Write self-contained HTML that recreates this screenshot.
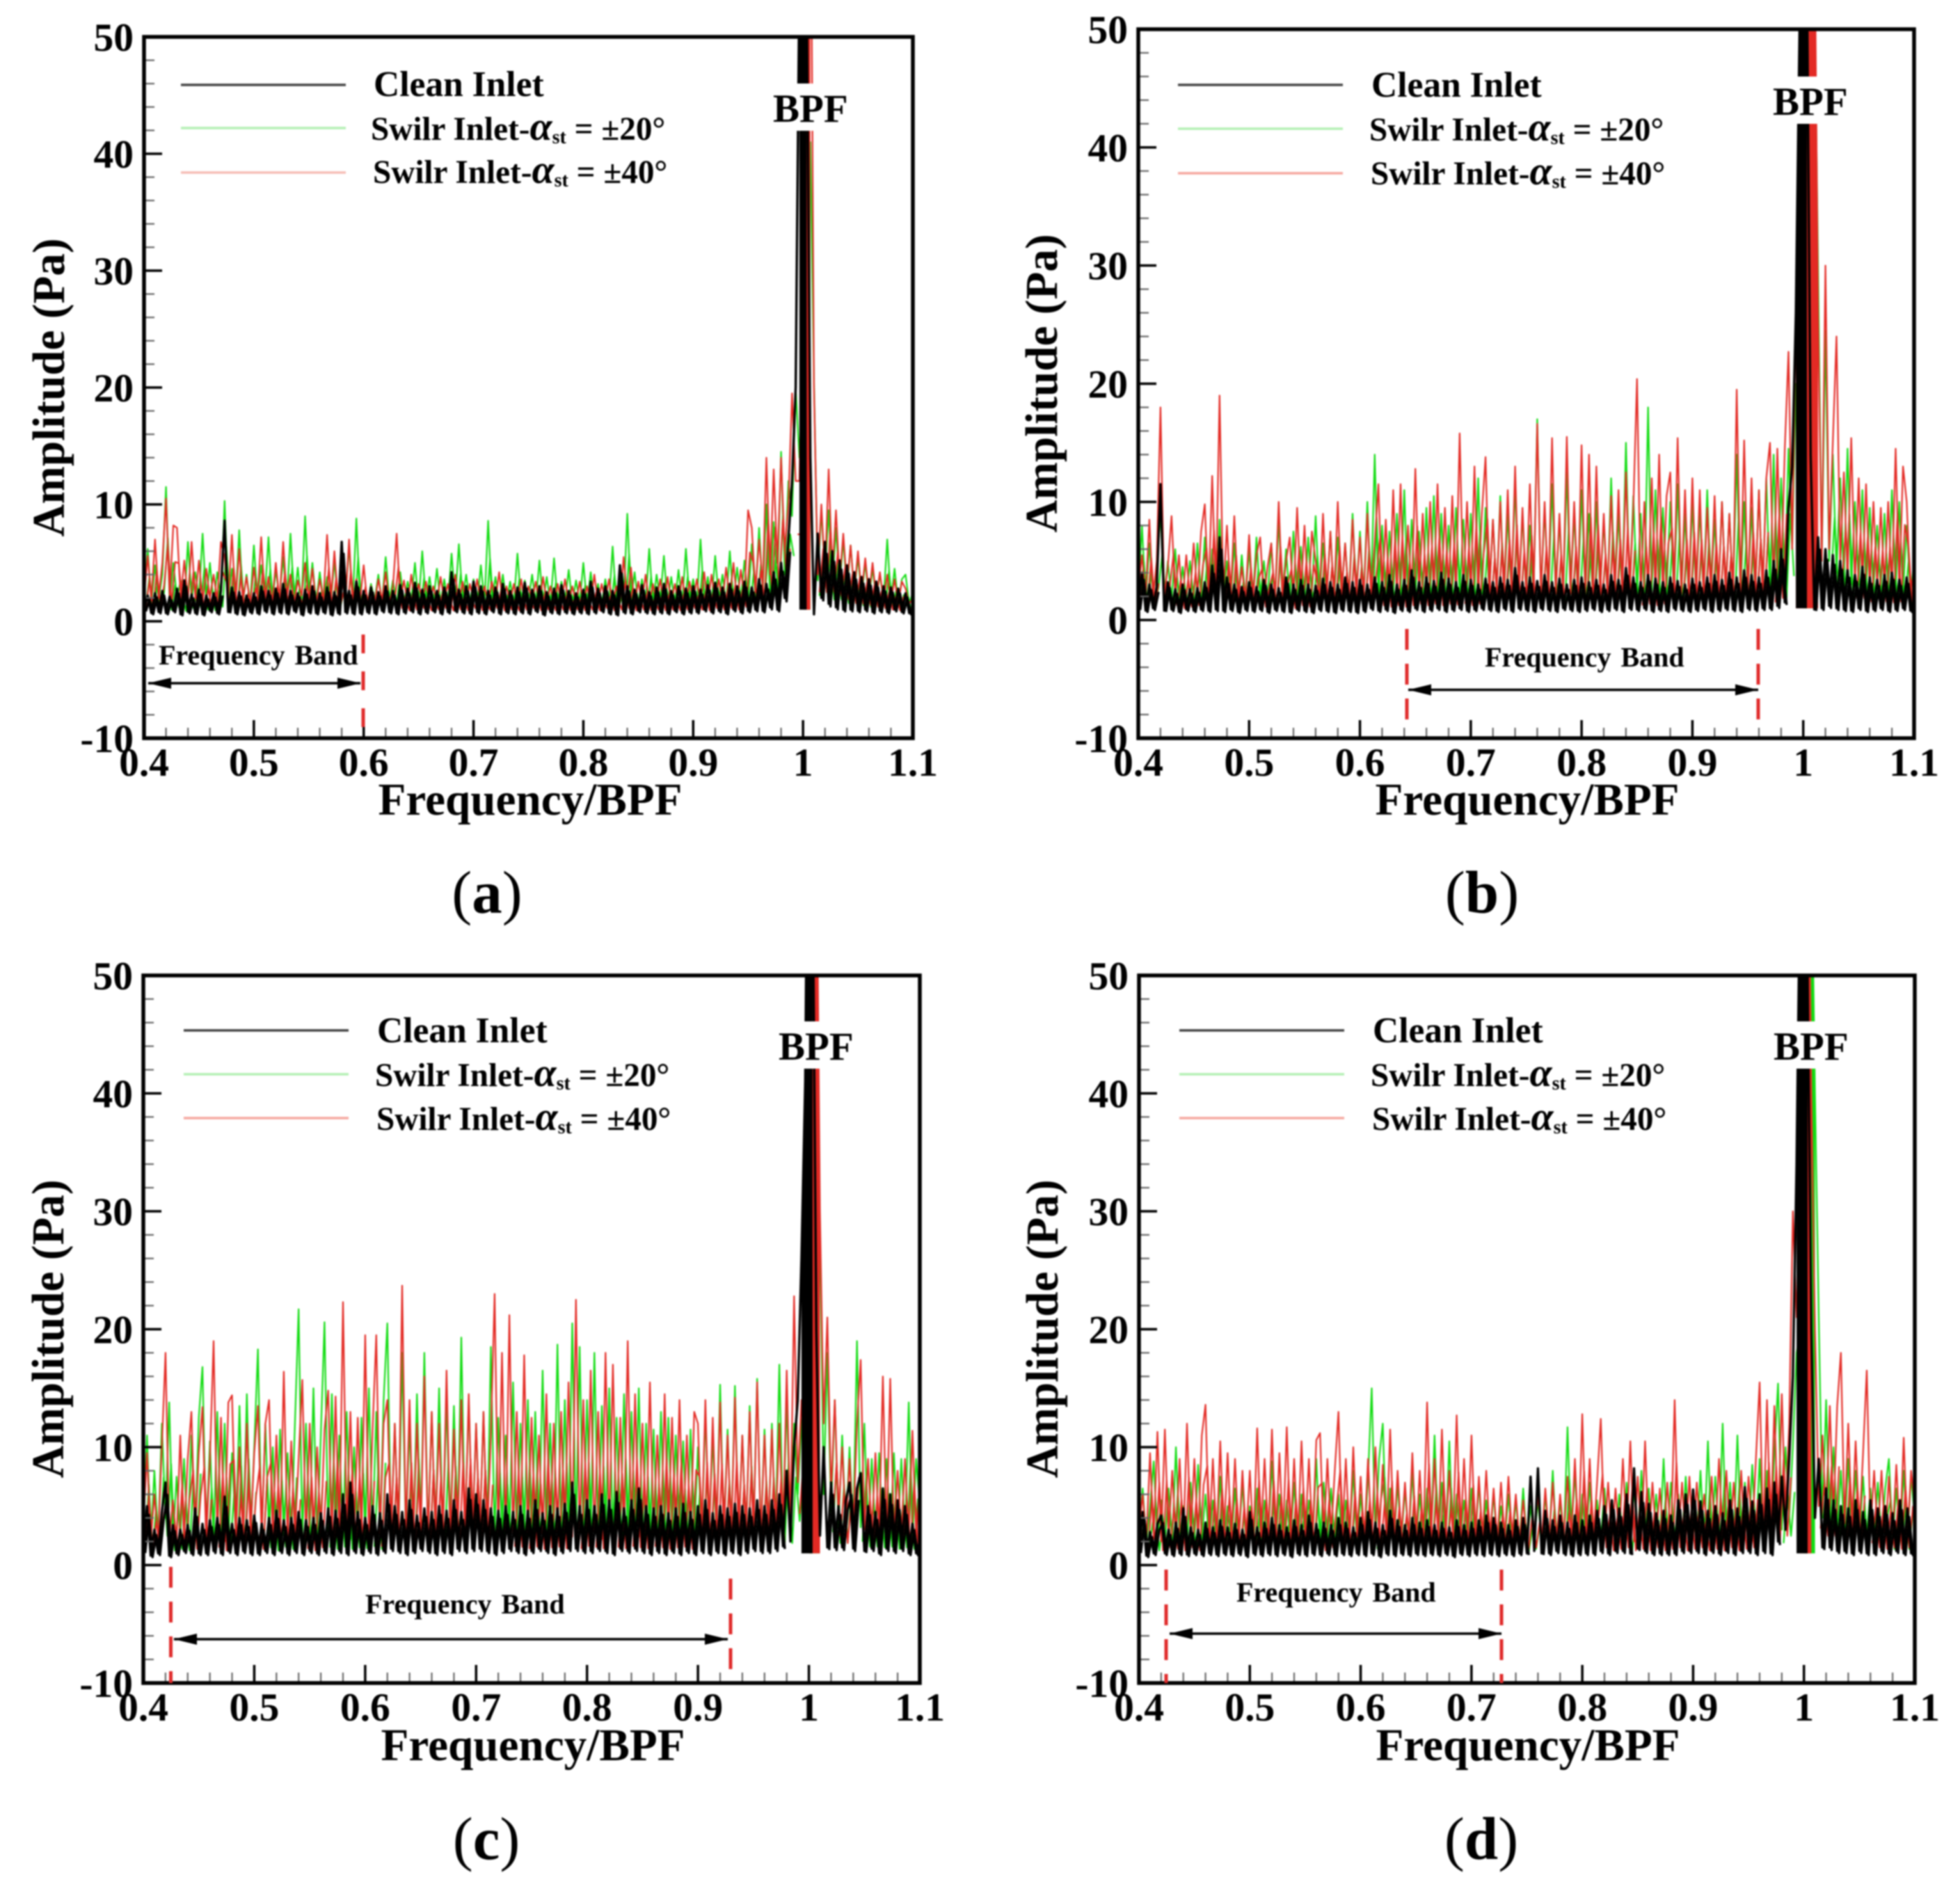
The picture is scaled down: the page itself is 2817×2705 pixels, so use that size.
<!DOCTYPE html>
<html lang="en">
<head>
<meta charset="utf-8">
<title>Amplitude spectra for clean and swirl inlets</title>
<style>
html,body{margin:0;padding:0;background:#fff;}
svg{display:block;}
text{font-family:"Liberation Serif",serif;font-weight:bold;fill:#000;}
.tick{font-size:57.5px;}
.xt{font-size:65.2px;text-anchor:middle;}
.leg1{font-size:51.5px;}
.leg2{font-size:47.2px;}
.bpf{font-size:57px;}
.fb{font-size:40px;word-spacing:4px;}
.cap{font-size:87px;text-anchor:middle;}
.cap tspan{font-weight:normal;}
.al{font-style:italic;font-size:58px;}
.st{font-size:28px;}
</style>
</head>
<body>
<svg xmlns="http://www.w3.org/2000/svg" width="2817" height="2705" viewBox="0 0 2817 2705">
<defs>
<clipPath id="clip-a"><rect x="207" y="53" width="1105" height="1008"/></clipPath>
<clipPath id="clip-b"><rect x="1636" y="42" width="1115" height="1019"/></clipPath>
<clipPath id="clip-c"><rect x="206" y="1402" width="1116" height="1017"/></clipPath>
<clipPath id="clip-d"><rect x="1637" y="1402" width="1115" height="1017"/></clipPath>
</defs>
<g style="filter:blur(1.1px)">

<g>
<g id="series-a" clip-path="url(#clip-a)"></g>
<g id="ticks-a"></g>
<rect x="207" y="53" width="1105" height="1008" fill="none" stroke="#000" stroke-width="5.5"/>
<text class="xt" x="762" y="1171">Frequency/BPF</text>
<text class="xt" transform="translate(92 557) rotate(-90)">Amplitude (Pa)</text>
<line x1="260" x2="497" y1="122" y2="122" stroke="#444" stroke-width="3.5"/>
<line x1="260" x2="497" y1="184" y2="184" stroke="#b4f0b4" stroke-width="3.5"/>
<line x1="260" x2="497" y1="248" y2="248" stroke="#f6bdb5" stroke-width="3.5"/>
<text class="leg1" x="537" y="138">Clean Inlet</text>
<text class="leg2" x="533" y="201">Swilr Inlet-<tspan class="al">α</tspan><tspan class="st" dy="5">st</tspan><tspan dy="-5"> = ±20°</tspan></text>
<text class="leg2" x="536" y="263">Swilr Inlet-<tspan class="al">α</tspan><tspan class="st" dy="5">st</tspan><tspan dy="-5"> = ±40°</tspan></text>
<rect x="1111" y="120" width="108" height="68" fill="#fff"/>
<text class="bpf" x="1111" y="175">BPF</text>
<text class="fb" x="228" y="955">Frequency Band</text>
<path d="M213 982H518" stroke="#000" stroke-width="3.5"/>
<path d="M213 982l33-8v16zM518 982l-33-8v16z" fill="#000"/>
<line x1="522" x2="522" y1="912" y2="1061" stroke="#e02c2c" stroke-width="5" stroke-dasharray="27 26"/>
<text class="cap" x="700" y="1312"><tspan>(</tspan>a<tspan>)</tspan></text>
</g>

<g>
<g id="series-b" clip-path="url(#clip-b)"></g>
<g id="ticks-b"></g>
<rect x="1636" y="42" width="1115" height="1019" fill="none" stroke="#000" stroke-width="5.5"/>
<text class="xt" x="2195" y="1171">Frequency/BPF</text>
<text class="xt" transform="translate(1519 551) rotate(-90)">Amplitude (Pa)</text>
<line x1="1693" x2="1930" y1="122" y2="122" stroke="#444" stroke-width="3.5"/>
<line x1="1693" x2="1930" y1="185" y2="185" stroke="#b4f0b4" stroke-width="3.5"/>
<line x1="1693" x2="1930" y1="249" y2="249" stroke="#f6a8a0" stroke-width="3.5"/>
<text class="leg1" x="1971" y="139">Clean Inlet</text>
<text class="leg2" x="1968" y="202">Swilr Inlet-<tspan class="al">α</tspan><tspan class="st" dy="5">st</tspan><tspan dy="-5"> = ±20°</tspan></text>
<text class="leg2" x="1970" y="265">Swilr Inlet-<tspan class="al">α</tspan><tspan class="st" dy="5">st</tspan><tspan dy="-5"> = ±40°</tspan></text>
<rect x="2548" y="110" width="108" height="68" fill="#fff"/>
<text class="bpf" x="2548" y="165">BPF</text>
<text class="fb" x="2134" y="958">Frequency Band</text>
<path d="M2024 991.500H2527" stroke="#000" stroke-width="3.5"/>
<path d="M2024 991.500l33-8v16zM2527 991.500l-33-8v16z" fill="#000"/>
<line x1="2022" x2="2022" y1="904" y2="1034" stroke="#e02c2c" stroke-width="5" stroke-dasharray="30 20"/>
<line x1="2527" x2="2527" y1="904" y2="1034" stroke="#e02c2c" stroke-width="5" stroke-dasharray="30 20"/>
<text class="cap" x="2130" y="1312"><tspan>(</tspan>b<tspan>)</tspan></text>
</g>

<g>
<g id="series-c" clip-path="url(#clip-c)"></g>
<g id="ticks-c"></g>
<rect x="206" y="1402" width="1116" height="1017" fill="none" stroke="#000" stroke-width="5.5"/>
<text class="xt" x="766" y="2530">Frequency/BPF</text>
<text class="xt" transform="translate(91 1910) rotate(-90)">Amplitude (Pa)</text>
<line x1="264" x2="501" y1="1481" y2="1481" stroke="#444" stroke-width="3.5"/>
<line x1="264" x2="501" y1="1544" y2="1544" stroke="#b4f0b4" stroke-width="3.5"/>
<line x1="264" x2="501" y1="1607" y2="1607" stroke="#f6a8a0" stroke-width="3.5"/>
<text class="leg1" x="542" y="1498">Clean Inlet</text>
<text class="leg2" x="539" y="1561">Swilr Inlet-<tspan class="al">α</tspan><tspan class="st" dy="5">st</tspan><tspan dy="-5"> = ±20°</tspan></text>
<text class="leg2" x="541" y="1624">Swilr Inlet-<tspan class="al">α</tspan><tspan class="st" dy="5">st</tspan><tspan dy="-5"> = ±40°</tspan></text>
<rect x="1119" y="1468" width="108" height="68" fill="#fff"/>
<text class="bpf" x="1119" y="1523">BPF</text>
<text class="fb" x="525" y="2319">Frequency Band</text>
<path d="M250 2356H1046" stroke="#000" stroke-width="3.5"/>
<path d="M250 2356l33-8v16zM1046 2356l-33-8v16z" fill="#000"/>
<line x1="245.500" x2="245.500" y1="2252" y2="2419" stroke="#e02c2c" stroke-width="5" stroke-dasharray="30 20"/>
<line x1="1050" x2="1050" y1="2269" y2="2405" stroke="#e02c2c" stroke-width="5" stroke-dasharray="30 20"/>
<text class="cap" x="699" y="2672"><tspan>(</tspan>c<tspan>)</tspan></text>
</g>

<g>
<g id="series-d" clip-path="url(#clip-d)"></g>
<g id="ticks-d"></g>
<rect x="1637" y="1402" width="1115" height="1017" fill="none" stroke="#000" stroke-width="5.5"/>
<text class="xt" x="2196" y="2530">Frequency/BPF</text>
<text class="xt" transform="translate(1520 1910) rotate(-90)">Amplitude (Pa)</text>
<line x1="1695" x2="1932" y1="1481" y2="1481" stroke="#444" stroke-width="3.5"/>
<line x1="1695" x2="1932" y1="1544" y2="1544" stroke="#b4f0b4" stroke-width="3.5"/>
<line x1="1695" x2="1932" y1="1607" y2="1607" stroke="#f6a8a0" stroke-width="3.5"/>
<text class="leg1" x="1973" y="1498">Clean Inlet</text>
<text class="leg2" x="1970" y="1561">Swilr Inlet-<tspan class="al">α</tspan><tspan class="st" dy="5">st</tspan><tspan dy="-5"> = ±20°</tspan></text>
<text class="leg2" x="1972" y="1624">Swilr Inlet-<tspan class="al">α</tspan><tspan class="st" dy="5">st</tspan><tspan dy="-5"> = ±40°</tspan></text>
<rect x="2549" y="1468" width="108" height="68" fill="#fff"/>
<text class="bpf" x="2549" y="1523">BPF</text>
<text class="fb" x="1777" y="2302">Frequency Band</text>
<path d="M1681 2348H2158" stroke="#000" stroke-width="3.5"/>
<path d="M1681 2348l33-8v16zM2158 2348l-33-8v16z" fill="#000"/>
<line x1="1676" x2="1676" y1="2256" y2="2419" stroke="#e02c2c" stroke-width="5" stroke-dasharray="30 20"/>
<line x1="2158" x2="2158" y1="2256" y2="2419" stroke="#e02c2c" stroke-width="5" stroke-dasharray="30 20"/>
<text class="cap" x="2129" y="2672"><tspan>(</tspan>d<tspan>)</tspan></text>
</g>

</g>
</svg>
<script>
const xTickValues = [0.4, 0.5, 0.6, 0.7, 0.8, 0.9, 1, 1.1];
const xTickLabels = ['0.4', '0.5', '0.6', '0.7', '0.8', '0.9', '1', '1.1'];
const xMinorValues = [0.42, 0.44, 0.46, 0.48, 0.52, 0.54, 0.56, 0.58, 0.62, 0.64, 0.66, 0.68, 0.72, 0.74, 0.76, 0.78, 0.82, 0.84, 0.86, 0.88, 0.92, 0.94, 0.96, 0.98, 1.02, 1.04, 1.06, 1.08];
const yTickValues = [-10, 0, 10, 20, 30, 40, 50];
const yTickLabels = ['-10', '0', '10', '20', '30', '40', '50'];
const yMinorValues = [-8, -6, -4, -2, 2, 4, 6, 8, 12, 14, 16, 18, 22, 24, 26, 28, 32, 34, 36, 38, 42, 44, 46, 48];

/* Spectrum amplitude (Pa), sampled every 1/300 of BPF from 0.4 to 1.1 */
const aClean = [
1.0,2.2,0.7,2.4,0.8,2.6,0.7,2.1,0.9,2.8,0.6,3.5,0.8,2.3,0.7,2.7,0.6,2.2,0.9,2.4,0.7,2.6,8.6,0.8,2.9,0.7,2.5,0.6,2.2,0.8,
2.4,0.7,3.0,0.9,2.6,0.7,2.8,0.8,3.2,0.7,2.6,0.9,2.4,0.6,2.7,0.8,3.0,0.7,2.4,0.8,2.9,0.6,2.5,0.7,6.8,0.8,2.6,0.7,3.4,0.7,
2.6,0.8,2.9,0.7,2.5,0.9,3.0,0.8,2.6,0.7,3.1,0.8,2.8,0.9,3.3,0.7,2.7,0.8,3.0,0.9,2.6,0.7,2.9,0.8,4.2,0.9,2.7,0.8,3.0,0.7,
3.4,0.8,3.0,0.7,2.6,0.9,2.9,0.7,3.2,0.8,2.6,0.7,2.9,0.8,3.3,0.7,2.7,0.9,3.0,0.6,2.5,0.8,2.8,0.7,3.1,0.8,2.6,0.7,2.4,0.8,
2.7,0.7,3.4,0.8,2.8,0.9,3.0,0.7,2.6,0.6,4.8,0.8,3.0,0.7,2.7,0.9,3.1,0.8,2.5,0.7,2.9,0.8,3.2,0.7,2.6,0.9,3.0,0.7,2.8,0.8,
3.0,0.8,2.7,1.0,3.1,0.8,3.3,0.9,2.9,0.7,3.2,1.0,3.0,0.8,3.4,0.9,2.9,1.0,3.6,0.9,3.2,1.2,4.2,1.0,5.0,2.0,7.0,12.0,20.0,55,
75,55,14,0.6,7.5,2.0,6.8,1.5,6.0,1.2,5.2,1.0,4.8,1.0,4.2,0.9,3.8,1.0,3.6,0.8,3.4,0.9,3.0,0.8,2.9,1.0,2.8,0.8,2.4,0.7,
1.0];
const aGreen = [
2.0,6.2,1.5,4.8,1.8,4.0,11.5,1.6,5.0,2.0,3.5,1.4,6.8,1.8,4.2,2.0,7.5,1.6,5.0,1.5,4.2,2.0,10.3,1.8,4.5,1.5,7.8,1.6,4.0,1.5,
6.5,1.8,4.8,2.0,7.2,1.5,4.4,2.0,5.5,1.6,7.5,1.8,4.6,1.5,9.0,2.0,5.0,1.6,4.2,1.8,3.8,1.5,5.2,1.6,4.0,1.8,6.5,1.5,8.8,1.6,
2.5,1.4,3.2,1.8,4.0,1.5,5.5,1.8,3.5,1.4,4.2,1.6,3.4,1.8,5.0,1.5,6.0,1.7,3.8,1.6,4.5,1.5,3.6,1.6,5.8,1.8,6.6,2.0,4.0,1.6,
3.6,1.5,4.8,1.6,8.6,1.8,3.8,1.5,4.0,1.6,3.4,1.5,5.8,1.6,3.5,1.8,4.0,1.5,5.2,1.6,3.8,1.5,5.4,1.6,3.4,1.8,4.4,1.5,3.5,1.6,
5.0,1.5,4.2,1.6,3.2,1.4,3.6,1.6,6.4,1.5,3.4,1.6,9.2,1.8,4.2,1.5,3.6,1.6,6.2,1.5,4.0,1.8,5.6,1.5,3.8,1.6,4.4,1.5,6.2,1.8,
3.6,1.5,7.0,1.6,3.8,1.5,5.6,1.8,4.0,1.5,6.0,1.6,4.6,1.8,5.2,1.6,6.6,2.0,8.0,2.5,10.0,2.0,8.5,3.0,14.5,4.0,12.0,9.0,20,14,
22,30,41,20.5,3.5,9.5,4.0,9.5,3.0,8.0,3.0,7.0,2.5,6.5,2.5,5.5,2.2,5.0,2.0,4.5,2.0,4.0,1.8,7.0,1.8,4.5,1.5,3.6,4.0,1.5,
2.5];
const aRed = [
2.0,5.6,1.8,7.0,2.0,5.0,10.5,2.2,8.2,8.0,2.0,5.2,1.8,6.8,2.0,5.2,1.6,4.5,2.0,4.0,1.8,6.8,5.5,2.0,7.4,1.6,6.2,1.8,3.8,1.5,
4.6,2.0,7.2,1.8,3.8,1.6,5.0,1.8,6.8,2.0,4.0,1.6,3.5,2.2,5.0,1.8,4.5,1.5,3.6,1.8,7.4,1.6,6.0,1.8,4.0,1.6,7.0,1.5,3.6,1.8,
4.8,1.5,3.0,1.6,3.6,1.8,4.2,1.5,3.0,7.5,1.8,3.5,1.5,4.0,1.6,3.2,1.8,3.4,1.5,3.0,1.6,3.8,1.8,3.2,1.5,4.0,1.6,3.4,1.5,3.2,
1.8,3.6,1.5,3.0,1.6,3.4,1.8,4.2,1.5,3.0,1.6,3.2,1.5,3.6,1.6,3.0,1.8,3.4,1.5,3.8,1.6,3.0,1.5,3.2,1.6,3.6,1.5,3.0,1.6,3.4,
1.5,3.0,1.6,4.0,1.5,3.2,1.8,3.6,1.5,3.0,1.6,5.5,1.8,4.6,1.5,3.4,1.6,4.0,1.5,3.2,1.6,3.6,1.5,3.8,1.6,3.2,1.5,3.8,1.6,3.4,
1.8,3.6,1.6,4.2,1.5,4.0,1.8,3.6,1.6,4.6,1.8,5.0,1.6,4.4,2.0,9.5,8.0,2.5,7.0,3.0,14.0,4.0,13.0,5.0,14.0,6.0,10.0,19.5,12,12,
30,55,70,20,4.0,10.0,4.0,13.0,4.0,9.5,3.5,7.5,3.0,6.5,2.5,6.0,2.4,5.4,2.2,5.0,2.0,4.2,1.8,4.0,1.6,3.6,1.5,3.4,2.8,1.5,
2.0];

const bClean = [
1.0,4.0,0.8,3.0,1.0,2.8,11.5,0.8,3.2,0.9,2.6,0.7,3.0,0.9,2.6,0.8,2.7,0.9,3.2,0.8,4.6,0.9,7.0,0.8,3.6,0.9,3.0,0.7,2.8,0.9,
3.2,0.8,2.8,0.9,3.4,0.7,3.0,0.9,2.7,0.8,3.6,0.7,3.0,0.9,3.4,0.8,3.0,0.7,2.9,0.9,3.5,0.8,3.2,0.7,3.0,0.9,3.6,0.8,3.2,0.7,
3.4,0.8,3.0,1.0,3.6,0.8,3.2,0.9,3.8,0.7,3.0,0.9,3.4,0.8,4.2,1.0,3.2,0.8,3.6,0.9,3.3,1.0,4.0,0.8,3.5,0.9,3.2,1.0,3.8,0.8,
3.4,0.9,3.0,1.0,3.5,0.9,3.2,0.8,3.6,1.0,3.4,0.8,4.4,1.0,3.2,0.9,3.6,0.8,3.3,1.0,3.8,0.9,3.2,0.8,3.5,1.0,3.0,0.9,3.4,0.8,
3.6,0.9,3.2,1.0,3.4,0.8,3.0,0.9,3.8,1.0,3.4,0.8,4.4,1.0,3.6,0.9,3.2,1.0,3.8,0.8,3.5,0.9,3.2,0.8,3.6,1.0,3.3,0.9,3.0,0.8,
3.5,0.9,3.2,1.0,3.6,0.8,3.8,0.9,3.4,1.0,4.0,0.9,3.6,0.8,4.2,1.0,3.8,0.9,3.6,1.0,4.2,1.0,5.0,1.2,6.0,1.5,9.5,13.0,26,50,
80,55,14,0.9,7.0,1.0,6.0,1.2,5.5,1.0,5.0,0.9,4.2,0.8,3.8,1.0,4.5,0.8,3.6,0.9,3.4,1.0,3.8,0.8,4.0,0.9,3.4,1.0,3.6,0.8,
1.5];
const bGreen = [
2.5,8.0,1.6,6.5,2.0,4.5,9.0,1.8,5.0,1.6,6.0,1.5,4.5,1.8,5.0,1.6,6.5,1.8,7.0,1.5,6.0,2.0,8.5,1.8,5.0,1.6,6.5,1.5,5.5,1.8,
6.0,1.5,7.0,1.6,5.0,1.8,6.5,1.6,8.5,1.8,6.0,1.6,7.5,1.8,6.2,1.6,7.0,2.0,8.8,1.8,6.5,2.0,7.5,1.8,7.0,2.0,6.5,1.8,9.0,2.0,
7.5,1.8,10.0,2.0,14.0,2.2,8.0,1.8,7.5,2.0,9.0,2.2,11.0,1.8,8.5,2.0,7.5,2.2,9.5,2.0,10.5,1.8,9.0,2.2,8.0,2.0,9.5,2.2,8.5,2.0,
9.0,2.0,12.0,2.2,9.5,2.0,8.5,2.2,10.5,2.0,9.0,2.2,11.5,2.0,9.0,2.2,8.0,2.0,17.0,2.2,9.5,2.0,11.5,2.2,8.5,2.0,12.5,2.2,9.0,2.0,
11.0,2.2,9.0,2.0,10.0,2.2,8.5,2.0,12.0,2.4,9.0,2.2,15.0,2.0,10.5,2.2,9.0,2.0,18.0,2.4,11.0,2.0,9.5,2.2,10.0,2.0,11.5,2.2,9.0,2.0,
10.0,2.2,9.5,2.0,11.0,2.2,8.5,2.0,10.0,2.2,9.0,2.4,14.0,2.0,10.0,2.2,9.5,2.0,11.0,2.2,12.0,2.4,14.0,2.5,12.0,3.0,14.5,6.0,20,14,
30,50,65,55,30,5.0,24.5,5.0,14.0,4.0,12.0,3.5,14.5,3.0,10.0,3.0,11.0,2.5,9.5,2.5,8.0,2.5,9.0,2.2,11.0,2.4,10.0,2.2,8.0,2.0,
5.0];
const bRed = [
2.5,5.5,2.0,8.5,1.8,5.0,18.0,2.0,4.5,8.8,2.0,5.5,1.6,5.5,1.8,6.5,2.0,7.5,9.8,1.8,12.2,2.0,19.0,2.0,8.0,1.8,8.8,1.6,4.5,1.8,
7.2,1.6,5.5,7.0,1.8,4.5,6.5,1.6,10.0,1.8,5.0,7.0,1.6,9.5,2.0,8.0,1.8,7.5,5.0,1.6,9.0,2.0,7.5,1.8,10.0,2.0,6.5,1.6,8.5,2.0,
7.0,1.8,9.0,2.0,6.5,11.5,2.0,8.5,1.8,11.0,2.0,11.5,1.8,8.0,2.0,12.8,2.2,9.0,2.0,10.0,2.2,11.5,2.0,9.5,2.2,10.5,2.0,15.8,2.2,10.0,
2.0,13.0,2.2,9.0,13.8,2.0,8.5,2.2,10.0,2.0,11.0,2.2,13.0,2.0,9.5,2.2,11.5,2.0,16.6,2.2,10.0,2.0,15.4,2.2,9.0,2.0,15.5,2.2,10.0,2.0,
14.8,2.2,14.0,2.0,13.0,2.2,9.0,2.0,10.5,2.2,11.0,2.0,12.5,2.2,9.5,20.4,2.0,10.0,2.2,12.0,2.0,14.0,2.2,10.5,12.5,2.0,15.4,2.2,11.0,2.0,
12.0,2.2,11.0,2.0,9.5,2.2,10.5,2.0,10.0,2.2,9.0,2.0,19.5,2.2,15.2,2.0,12.0,2.2,11.0,2.0,12.0,15.0,2.4,14.5,3.0,14.5,22.7,6.0,26,30,
40,55,68,62,26,5.0,30.0,6.0,15.0,24.0,5.0,12.5,3.5,15.4,3.0,12.0,3.0,11.5,2.5,10.0,3.0,9.5,2.5,10.0,2.4,14.5,2.5,13.0,10.0,2.5,
4.0];

const cClean = [
1.2,5.0,0.8,3.0,1.0,4.5,7.0,0.8,3.4,1.0,3.0,1.2,3.4,1.0,4.8,1.0,3.5,1.0,3.8,1.2,4.0,1.0,5.8,1.2,3.5,1.0,4.0,1.2,3.8,1.0,
4.2,1.0,3.5,1.2,4.0,1.0,4.6,1.2,3.8,1.0,4.0,1.2,4.5,1.0,3.8,1.2,4.0,1.0,4.4,1.2,4.8,1.0,4.6,1.2,6.0,1.0,7.0,1.2,4.5,1.0,
4.0,1.2,5.0,1.0,4.4,1.2,6.0,1.4,5.0,1.2,4.5,1.0,5.5,1.2,4.2,1.4,4.8,1.2,4.5,1.0,5.0,1.2,4.6,1.0,5.5,1.4,4.5,1.2,6.5,1.4,
6.0,1.4,5.5,1.2,4.8,1.0,4.6,1.2,5.0,1.4,4.5,1.2,5.0,1.0,4.6,1.2,5.5,1.4,4.4,1.2,5.0,1.0,4.8,1.2,5.2,1.4,7.0,1.4,5.0,1.2,
5.5,1.2,5.0,1.4,6.0,1.2,5.5,1.0,6.2,1.4,4.8,1.2,5.5,1.4,6.5,1.2,5.0,1.0,4.8,1.2,5.0,1.0,4.4,1.2,4.8,1.0,5.2,1.2,4.5,1.0,
5.0,1.2,5.5,1.0,4.4,1.2,5.0,1.0,4.8,1.2,5.2,1.0,5.0,1.2,4.8,1.4,5.5,1.2,5.0,1.2,5.5,1.4,6.0,1.6,8.0,2.0,10.0,14,26,41,
80,60,20,2.5,10.0,1.5,7.0,1.5,5.0,1.5,5.5,7.0,1.4,6.5,7.8,1.2,5.0,1.4,4.5,1.0,6.5,1.4,6.0,1.2,5.5,1.4,5.0,1.0,3.5,1.0,
2.0];
const cGreen = [
3.0,11.0,1.8,8.0,2.0,12.0,4.0,13.8,2.0,7.5,2.2,9.0,2.0,11.0,2.4,12.5,16.8,2.2,10.5,2.0,13.0,2.5,12.0,2.0,9.5,2.4,13.5,2.2,14.5,2.0,
10.0,18.3,2.2,12.0,2.4,10.0,2.0,11.5,2.5,9.5,2.2,12.0,21.7,2.4,12.0,2.2,15.0,2.0,11.0,20.6,2.4,14.5,2.2,11.0,2.5,13.0,2.2,10.0,2.4,12.5,
2.2,15.0,2.5,13.0,2.2,14.0,20.5,2.4,12.0,2.2,18.0,2.5,12.0,2.2,14.5,2.5,18.0,2.4,13.0,2.2,15.0,2.5,14.0,2.2,13.5,2.4,19.3,2.5,14.0,2.2,
12.0,2.5,13.0,2.2,18.5,2.4,12.5,2.5,11.0,2.2,15.5,2.5,12.0,2.4,14.0,2.2,13.0,2.5,16.5,2.2,12.0,2.5,18.7,2.4,14.0,2.2,20.5,2.5,18.5,2.4,
14.0,2.2,18.0,2.5,13.5,2.2,15.0,2.4,12.5,2.5,14.5,2.2,13.0,2.4,15.0,2.5,12.0,2.2,11.5,2.4,13.0,2.2,12.5,2.4,11.0,2.5,10.5,2.2,11.5,2.4,
10.0,2.2,13.0,2.5,11.0,2.2,15.3,2.4,11.5,2.2,15.2,2.5,11.0,2.2,13.5,2.4,15.8,2.5,11.5,2.2,12.0,2.5,17.0,3.0,14.0,3.0,12.0,6.0,12,14,
30,45,50,29,6.0,18.0,4.5,14.0,3.0,11.0,3.0,10.0,3.0,19.0,3.2,12.0,2.5,9.0,2.5,9.5,2.4,9.0,2.5,9.5,2.2,9.0,2.4,13.8,2.2,9.0,
5.0];
const cRed = [
3.5,9.5,2.0,6.0,2.2,10.0,18.0,2.2,5.5,2.0,11.0,2.0,9.0,13.0,2.2,9.5,13.4,2.0,9.0,19.0,2.4,12.5,2.0,13.8,14.4,2.2,10.0,2.0,12.0,2.4,
9.5,13.5,2.2,12.0,14.0,2.4,11.0,2.2,16.4,2.0,10.5,2.4,9.0,15.7,2.2,12.0,2.0,10.0,2.4,11.5,14.8,2.2,14.3,2.0,22.3,2.5,13.0,2.2,12.5,2.4,
19.5,2.2,11.5,19.5,2.5,12.0,14.0,2.2,12.0,2.4,23.7,2.5,14.0,2.2,12.0,2.4,16.0,2.2,13.0,2.5,12.0,2.2,16.5,2.4,11.5,2.5,14.0,2.2,14.5,2.4,
12.0,2.5,13.0,2.2,11.0,23.0,2.4,18.0,2.2,21.2,2.5,13.0,2.4,17.8,2.2,12.5,2.5,11.0,2.2,14.5,2.4,12.0,2.5,13.0,2.2,15.5,2.4,22.5,2.2,14.0,
2.5,16.5,2.4,13.0,2.2,18.0,2.5,17.0,2.4,12.5,2.2,19.0,2.5,14.5,2.4,12.0,2.2,15.5,2.5,11.0,2.4,14.5,2.2,12.5,2.4,14.0,2.5,11.0,2.2,13.0,
12.0,2.4,14.0,2.2,12.5,2.5,13.8,2.2,11.0,2.4,14.2,2.2,11.0,2.4,13.0,2.2,15.5,2.4,11.0,2.5,11.5,2.5,12.0,2.6,16.5,3.0,22.8,7.0,14,14,
30,55,65,30,12,21.0,6.0,14.0,4.0,10.0,3.0,9.0,3.0,12.0,17.4,3.0,9.0,2.5,9.5,2.5,16.0,2.4,15.8,2.5,8.0,2.4,9.0,2.2,11.4,2.4,
7.0];

const dClean = [
1.2,4.5,0.8,2.8,1.0,3.5,4.2,1.0,3.0,0.9,3.6,1.0,4.8,0.9,3.2,1.0,3.0,0.9,3.6,1.0,3.2,0.9,3.8,1.0,3.2,0.9,3.5,1.0,3.0,0.8,
4.5,1.0,3.2,0.9,3.6,1.0,4.0,0.9,3.4,1.0,3.2,0.8,3.8,1.0,3.4,0.9,4.2,1.0,3.5,0.9,3.6,1.0,3.4,0.9,4.0,1.0,3.6,0.9,3.2,1.0,
4.0,0.9,4.5,1.0,3.6,0.8,3.4,1.0,4.6,0.9,3.8,1.0,3.4,0.9,4.0,1.0,3.6,0.9,3.8,1.0,3.4,0.9,3.6,1.0,3.2,0.8,3.8,1.0,3.4,0.9,
3.6,1.0,3.8,0.9,4.2,1.0,4.0,0.9,3.6,1.0,3.4,0.9,3.8,1.0,4.0,1.0,7.5,1.2,8.2,1.0,4.6,1.0,3.8,1.2,4.2,1.0,3.6,0.9,4.2,1.0,
3.8,1.0,4.2,1.0,4.6,1.2,5.0,1.0,5.5,1.2,4.8,1.2,6.0,1.0,8.2,1.4,6.2,1.2,5.2,1.0,4.4,1.0,4.6,1.0,4.2,1.0,5.5,1.2,6.0,1.2,
6.4,1.2,5.4,1.0,4.6,1.2,5.0,1.0,4.4,1.2,5.5,1.0,4.8,1.2,6.6,1.2,5.4,1.0,6.0,1.2,6.5,1.0,7.0,2.0,7.5,3.0,9.0,16.0,34,60,
85,50,20,4.0,9.0,1.5,6.5,1.5,5.5,1.2,5.0,1.2,4.8,1.0,5.5,1.2,4.5,1.0,5.5,1.0,4.8,1.2,5.0,1.0,4.4,1.2,5.5,1.0,4.8,1.0,
1.5];
const dGreen = [
2.5,6.5,1.8,5.0,8.8,2.0,5.5,1.8,6.5,2.0,10.0,2.0,5.0,1.8,7.0,2.0,8.5,2.2,6.0,2.0,5.5,1.8,7.5,2.0,5.0,1.8,6.5,2.0,7.0,1.8,
5.0,2.0,6.5,1.8,5.5,2.2,8.8,2.0,6.0,1.8,5.5,2.0,7.0,1.8,6.0,2.2,5.5,2.0,9.0,1.8,7.0,2.0,6.5,1.8,6.0,2.0,5.5,2.2,8.0,1.8,
6.0,2.0,7.5,15.0,2.2,9.0,12.0,2.0,6.5,1.8,7.0,2.0,6.5,2.2,8.0,1.8,6.0,2.0,6.5,2.2,11.0,2.0,7.0,1.8,10.5,2.0,6.0,2.2,5.5,2.0,
6.5,1.8,7.0,2.0,5.5,2.2,6.0,1.8,5.0,2.0,6.0,1.8,5.5,2.0,6.5,1.8,5.0,2.2,5.5,1.8,6.0,2.0,8.0,1.8,5.5,2.0,11.7,2.2,8.0,1.8,
6.0,2.0,7.0,1.8,5.5,2.0,6.5,2.2,5.5,1.8,6.0,2.0,7.0,1.8,6.5,2.2,8.0,2.0,6.5,1.8,6.0,2.0,9.0,2.2,7.0,1.8,6.0,2.0,7.5,2.2,
6.0,1.8,8.0,2.0,10.5,2.0,7.5,2.2,12.0,1.8,7.0,2.0,11.0,2.2,7.0,2.0,8.5,2.2,9.0,2.0,8.0,2.2,9.5,15.4,3.0,10.0,4.0,10.0,18,20,
35,55,62,40,21,4.0,14.0,3.0,10.0,3.0,8.0,2.5,9.0,2.5,8.0,2.2,7.5,2.4,6.5,2.2,7.0,2.2,6.5,9.0,2.2,6.5,2.4,8.0,2.2,7.5,
4.0];
const dRed = [
3.0,6.0,2.0,9.5,2.2,11.3,2.0,11.5,2.4,8.0,2.2,9.0,2.0,12.0,2.4,9.0,2.0,11.0,13.6,2.2,9.0,2.0,10.5,2.4,9.5,2.2,9.0,2.0,8.0,2.2,
8.0,2.0,11.6,2.4,9.0,2.2,11.5,2.0,9.5,2.4,11.7,2.2,9.0,2.0,10.5,2.4,9.0,2.2,10.6,11.2,2.0,9.0,2.4,8.0,13.0,2.2,9.0,2.0,10.0,2.4,
7.5,2.2,9.0,2.0,10.0,2.4,8.5,2.2,11.5,2.0,8.0,2.4,7.0,2.2,9.5,2.0,8.0,2.4,13.8,2.2,9.0,2.0,11.5,2.4,8.0,2.2,12.7,2.0,9.0,2.2,
11.0,2.0,7.5,2.4,8.0,2.2,6.5,2.0,7.0,2.2,7.5,2.4,6.0,2.0,5.5,2.2,7.0,2.4,6.0,2.0,6.5,2.2,7.0,2.0,6.0,2.4,7.5,2.2,9.0,2.0,
12.8,2.2,9.0,2.0,7.0,12.4,2.4,7.0,2.0,6.5,2.2,9.0,2.4,10.5,2.0,7.5,2.2,10.5,2.0,7.0,2.4,6.5,2.0,7.0,2.2,14.0,2.4,7.0,2.0,7.5,
2.2,7.0,2.4,6.0,2.0,7.5,2.2,9.0,2.0,8.0,2.4,7.0,2.0,8.0,2.2,7.5,2.4,9.0,15.5,2.2,14.0,2.4,13.5,3.0,14.5,4.0,12.0,30,21,30,
60,70,40,20,5.0,11.0,4.0,13.5,4.0,13.5,18.0,3.5,12.0,3.0,10.5,3.0,9.5,16.5,3.0,8.0,2.4,8.0,2.2,7.5,2.4,8.5,2.2,10.8,2.4,8.0,
5.0];

const NS = 'http://www.w3.org/2000/svg';

function drawPanel(id, left, right, top, bottom, clean, green, red) {
  const xScale = function (f) { return left + (f - 0.4) / 0.7 * (right - left); };
  const yScale = function (a) { return top + (50 - a) / 60 * (bottom - top); };
  const sampleFreq = function (i) { return 0.4 + i / 300; };

  const seriesGroup = document.getElementById('series-' + id);
  const drawLine = function (values, colour, width, name, gain, cap, shift) {
    let d = '';
    let penDown = false;
    values.forEach(function (v, i) {
      const shown = v * gain;
      if (shown > cap) {
        penDown = false;
        return;
      }
      d += (penDown ? 'L' : 'M') + xScale(sampleFreq(i + shift)).toFixed(1) + ' ' + yScale(shown).toFixed(1);
      penDown = true;
    });
    const el = document.createElementNS(NS, 'path');
    el.setAttribute('d', d);
    el.setAttribute('fill', 'none');
    el.setAttribute('stroke', colour);
    el.setAttribute('stroke-width', width);
    el.setAttribute('stroke-linejoin', 'round');
    
    
    seriesGroup.appendChild(el);
  };
  /* The tone at BPF is drawn solid: contiguous samples above 25 Pa are filled down to the noise floor */
  const drawCore = function (values, colour, name) {
    let d = '';
    let run = [];
    values.concat([0]).forEach(function (v, i) {
      if (v >= 25) {
        run.push(i);
        return;
      }
      if (run.length) {
        run.forEach(function (k, n) {
          d += (n ? 'L' : 'M') + xScale(sampleFreq(k)).toFixed(1) + ' ' + yScale(values[k]).toFixed(1);
        });
        d += 'L' + xScale(sampleFreq(run[run.length - 1])).toFixed(1) + ' ' + yScale(1).toFixed(1);
        d += 'L' + xScale(sampleFreq(run[0])).toFixed(1) + ' ' + yScale(1).toFixed(1) + 'Z';
        run = [];
      }
    });
    const el = document.createElementNS(NS, 'path');
    el.setAttribute('d', d);
    el.setAttribute('fill', colour);
    
    
    seriesGroup.appendChild(el);
  };
  /* Each series gets a main trace and an in-between dense trace from the same samples */
  drawLine(green, '#12dc12', 2.2, 'series-swirl-20', 1, 99, 0);
  drawLine(green, '#12dc12', 2.2, 'series-swirl-20-dense', 0.62, 9, 0.5);
  drawCore(green, '#12dc12', 'bpf-tone-swirl-20');
  drawLine(red, '#e32a24', 2.2, 'series-swirl-40', 1, 99, 0);
  drawLine(red, '#e32a24', 2.2, 'series-swirl-40-dense', 0.62, 9, 0.5);
  drawCore(red, '#e32a24', 'bpf-tone-swirl-40');
  drawLine(clean, '#000', 3.4, 'series-clean-inlet', 1, 99, 0);
  drawLine(clean, '#000', 3.4, 'series-clean-inlet-dense', 0.85, 6, 0.5);
  drawCore(clean, '#000', 'bpf-tone-clean-inlet');

  const tickGroup = document.getElementById('ticks-' + id);
  const drawTick = function (x1, y1, x2, y2, major) {
    const el = document.createElementNS(NS, 'line');
    el.setAttribute('x1', x1);
    el.setAttribute('y1', y1);
    el.setAttribute('x2', x2);
    el.setAttribute('y2', y2);
    el.setAttribute('stroke', major ? '#000' : '#666');
    el.setAttribute('stroke-width', major ? 3.5 : 2.2);
    
    
    tickGroup.appendChild(el);
  };
  const drawLabel = function (x, y, anchor, label) {
    const el = document.createElementNS(NS, 'text');
    el.setAttribute('x', x);
    el.setAttribute('y', y);
    el.setAttribute('class', 'tick');
    el.setAttribute('text-anchor', anchor);
    
    
    el.textContent = label;
    tickGroup.appendChild(el);
  };
  xTickValues.forEach(function (v, i) {
    drawTick(xScale(v), bottom, xScale(v), bottom - 26, true);
    drawLabel(xScale(v), bottom + 54, 'middle', xTickLabels[i]);
  });
  xMinorValues.forEach(function (v) {
    drawTick(xScale(v), bottom, xScale(v), bottom - 15, false);
  });
  yTickValues.forEach(function (v, i) {
    drawTick(left, yScale(v), left + 26, yScale(v), true);
    drawLabel(left - 15, yScale(v) + 20, 'end', yTickLabels[i]);
  });
  yMinorValues.forEach(function (v) {
    drawTick(left, yScale(v), left + 15, yScale(v), false);
  });
}

drawPanel('a', 207, 1312, 53, 1061, aClean, aGreen, aRed);
drawPanel('b', 1636, 2751, 42, 1061, bClean, bGreen, bRed);
drawPanel('c', 206, 1322, 1402, 2419, cClean, cGreen, cRed);
drawPanel('d', 1637, 2752, 1402, 2419, dClean, dGreen, dRed);
</script>
</body>
</html>
